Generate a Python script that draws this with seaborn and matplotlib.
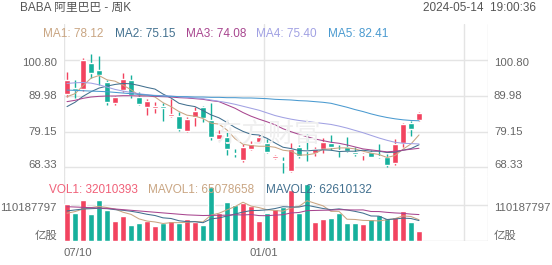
import numpy as np
import pandas as pd
import matplotlib
matplotlib.use("Agg")
import matplotlib.pyplot as plt
import seaborn as sns

# ---------------- data ----------------
x_tick_labels = ["07/10", "01/01"]
x_tick_index = [0, 25]

opens = [90.42, 92.2, 91.9, 99.8, 97.77, 94.23, 87.7, 91.7, 94.75, 89.7,
         86.5, 86.2, 86.9, 83.9, 83.85, 79.4, 83.65, 86.5, 82.64, 76.8,
         77.4, 72.6, 70.54, 73.9, 76.1, 75.6, 71.05, 70.0, 67.3, 74.4,
         73.5, 72.6, 73.8, 75.8, 73.5, 74.4, 73.05, 71.95, 73.05, 71.8,
         71.55, 69.54, 75.6, 81.83, 82.64]
highs = [97.17, 94.6, 101.4, 102.6, 102.0, 94.8, 89.9, 96.8, 96.3, 91.0,
         88.9, 88.2, 87.9, 88.9, 85.2, 83.65, 86.5, 86.9, 87.7, 79.6,
         79.4, 73.8, 75.4, 76.4, 78.1, 76.8, 72.0, 71.35, 75.6, 75.1,
         78.4, 74.56, 77.1, 78.0, 75.1, 77.4, 74.56, 72.6, 73.6, 75.3,
         72.35, 76.8, 81.6, 82.4, 85.2]
lows = [89.7, 89.3, 91.3, 95.3, 93.2, 87.2, 87.2, 91.2, 89.2, 87.3,
        84.07, 84.7, 82.4, 83.7, 79.4, 79.1, 80.8, 82.1, 76.6, 76.5,
        72.05, 71.4, 70.0, 73.6, 75.6, 72.7, 70.7, 66.7, 67.0, 71.05,
        70.3, 71.75, 72.6, 73.6, 71.35, 73.1, 71.75, 70.55, 71.35, 71.05,
        68.5, 69.0, 74.56, 77.8, 82.3]
closes = [94.75, 91.8, 100.8, 96.96, 96.2, 88.18, 89.7, 94.96, 90.2, 87.5,
          88.5, 86.9, 86.3, 84.5, 79.83, 82.85, 85.4, 83.16, 77.4, 78.4,
          73.8, 72.4, 74.56, 75.4, 77.4, 73.05, 71.75, 69.8, 73.8, 71.75,
          73.3, 73.9, 76.1, 74.56, 73.3, 73.35, 72.25, 72.35, 71.55, 71.4,
          69.0, 75.4, 81.43, 80.0, 84.85]
volumes = [113.0, 84.7, 125.5, 81.6, 125.5, 94.9, 61.2, 77.5, 49.0, 56.0,
           62.0, 46.9, 54.0, 62.0, 56.0, 67.3, 59.0, 48.0, 166.0, 84.7,
           119.0, 109.0, 115.0, 107.0, 61.0, 86.7, 97.0, 105.0, 156.0, 84.7,
           174.0, 58.0, 66.0, 71.0, 84.7, 54.0, 54.0, 52.0, 68.0, 79.6,
           71.0, 72.5, 92.7, 59.0, 32.010393]  # millions of shares

ma1 = [89.7, 90.6, 93.0, 95.3, 96.1, 94.8, 94.4, 93.2, 91.8, 90.1,
       90.2, 89.6, 87.9, 86.7, 85.2, 84.1, 83.8, 83.1, 81.7, 81.4,
       79.6, 77.0, 75.3, 74.9, 74.7, 74.7, 74.4, 73.5, 73.2, 72.0,
       72.1, 72.5, 73.8, 73.9, 74.2, 74.2, 73.9, 73.2, 72.6, 72.2,
       71.3, 71.9, 73.8, 75.4, 78.12]
ma2 = [86.7, 88.0, 89.8, 91.2, 92.3, 92.9, 93.4, 93.7, 93.6, 93.1,
       92.5, 92.0, 90.5, 89.3, 87.7, 87.1, 86.7, 85.5, 84.2, 83.3,
       81.9, 80.4, 79.2, 78.3, 78.1, 77.1, 75.7, 74.4, 74.0, 73.4,
       73.3, 73.5, 73.6, 73.5, 73.1, 73.2, 73.2, 73.5, 73.2, 73.2,
       72.8, 72.9, 73.5, 74.0, 75.15]
ma3 = [88.2, 88.6, 89.2, 89.6, 89.8, 89.9, 89.9, 90.0, 90.0, 89.9,
       89.9, 89.8, 89.7, 89.6, 89.4, 89.3, 89.1, 88.9, 88.5, 88.2,
       87.2, 86.2, 84.9, 83.8, 82.9, 82.1, 81.2, 80.0, 79.1, 78.3,
       77.6, 76.9, 76.4, 75.9, 75.6, 75.1, 74.5, 73.9, 73.6, 73.3,
       73.0, 73.2, 73.5, 73.8, 74.08]
ma4 = [93.7, 93.9, 94.0, 93.8, 93.3, 92.6, 91.9, 91.4, 91.0, 90.6,
       90.3, 90.1, 90.0, 89.9, 89.7, 89.5, 89.3, 89.1, 88.7, 88.3,
       87.9, 87.4, 86.8, 86.2, 85.6, 84.8, 84.0, 83.4, 82.9, 82.5,
       82.2, 81.9, 81.6, 81.3, 80.8, 80.2, 79.5, 78.8, 78.0, 77.2,
       76.5, 75.9, 75.6, 75.5, 75.40]
ma5 = [91.7, 91.6, 91.5, 91.4, 91.3, 91.2, 91.0, 90.8, 90.6, 90.4,
       90.2, 90.0, 89.9, 89.8, 89.7, 89.7, 89.6, 89.6, 89.5, 89.5,
       89.4, 89.4, 89.3, 89.3, 89.2, 89.1, 88.9, 88.8, 88.7, 88.5,
       88.4, 88.2, 88.0, 87.7, 87.1, 86.5, 85.8, 85.2, 84.5, 83.9,
       83.4, 83.0, 82.7, 82.5, 82.41]
mavol1 = [85, 90, 98, 102, 106.1, 102.4, 97.7, 88.1, 81.6, 67.7,
          61.1, 58.3, 53.6, 56.2, 56.2, 57.2, 59.7, 58.5, 79.3, 85.0,
          95.3, 105.3, 118.7, 106.9, 102.2, 95.7, 93.3, 91.3, 101.1, 105.9,
          123.3, 115.5, 107.7, 90.7, 90.7, 66.7, 65.9, 63.1, 62.5, 61.5,
          64.9, 68.6, 76.8, 75.0, 65.078658]
mavol2 = [92, 95, 98, 99, 100, 99, 96, 94, 91, 86.9,
          81.8, 78.0, 70.9, 68.9, 62.0, 59.2, 59.0, 56.0, 67.7, 70.6,
          76.3, 82.5, 88.6, 93.1, 93.6, 95.5, 99.3, 105.0, 104.0, 104.0,
          109.5, 104.4, 99.5, 95.9, 98.3, 95.0, 90.7, 85.4, 76.6, 76.1,
          65.8, 67.3, 70.0, 68.8, 62.610132]
mavol3 = [105, 104, 103, 102, 101, 100, 98, 96, 94, 92,
          90, 88, 86, 84, 82, 80, 79, 78, 78.5, 78.7,
          79.0, 80.3, 79.7, 81.0, 77.8, 77.4, 79.2, 80.5, 85.9, 87.3,
          92.9, 93.5, 94.1, 94.5, 96.0, 95.3, 95.0, 95.2, 90.3, 90.1,
          87.7, 85.9, 84.7, 82.3, 80.9]

price_ticks = [100.80, 89.98, 79.15, 68.33]
vol_tick = 110187797

# ---------------- style ----------------
sns.set_theme(style="white")
plt.rcParams["font.family"] = ["Liberation Sans", "Noto Sans CJK SC", "DejaVu Sans"]

RED = "#f2435f"
GREEN = "#16b09c"
C_MA1 = "#c9a582"
C_MA2 = "#42708f"
C_MA3 = "#a8468f"
C_MA4 = "#a1a1e3"
C_MA5 = "#4a9ad0"
GRID = "#e4e4e4"
TXT = "#666666"
LW = 0.75

W, H = 552, 265
fig = plt.figure(figsize=(W / 100, H / 100), dpi=100)


def rect(x0, y0, x1, y1):
    return [x0 / W, 1 - y1 / H, (x1 - x0) / W, (y1 - y0) / H]


ax = fig.add_axes(rect(64, 24, 488, 176))
axv = fig.add_axes(rect(64, 176, 488, 241))

n = len(closes)
idx = np.arange(n)
o = np.array(opens); c = np.array(closes)
hi = np.array(highs); lo = np.array(lows)
up = c >= o
colors = np.where(up, RED, GREEN)

df = pd.DataFrame({"i": idx, "vol": np.array(volumes) * 1e6,
                   "dir": np.where(up, "up", "down")})

XL = (-0.375, 52.625)
s = (100.80 - 68.33) / (167.3 - 60.0)
YL = (100.80 - (176 - 60) * s, 100.80 + (60 - 24) * s)
VL = (0, vol_tick * 65 / 36)

# grid
for a in (ax, axv):
    for gx in (-0.375, 24.625, 49.625, 52.625):
        a.axvline(gx, color=GRID, lw=1, zorder=0)
for v in price_ticks:
    ax.axhline(v, color=GRID, lw=1, zorder=0)
axv.axhline(vol_tick, color=GRID, lw=1, zorder=0)
axv.axhline(0, color="#dcdcdc", lw=1, zorder=0)

# faint watermark
fig.text(268 / W, 1 - 134 / H, "东方财富", fontsize=19, color="#efefef",
         ha="center", va="center", style="italic", zorder=0)

# candles
ax.vlines(idx, lo, hi, colors=colors, lw=1, zorder=2)
body = np.maximum(np.abs(c - o), 0.35)
ax.bar(idx, body, bottom=np.minimum(o, c), width=0.75, color=colors, zorder=3)

# moving averages
for vals, col in ((ma1, C_MA1), (ma2, C_MA2), (ma3, C_MA3), (ma4, C_MA4), (ma5, C_MA5)):
    sns.lineplot(x=idx, y=vals, ax=ax, color=col, lw=LW, zorder=4)

# volume
sns.barplot(data=df, x="i", y="vol", hue="dir", palette={"up": RED, "down": GREEN},
            dodge=False, width=0.75, saturation=1, legend=False, ax=axv, zorder=2)
for vals, col in ((mavol1, C_MA1), (mavol2, C_MA2), (mavol3, C_MA3)):
    sns.lineplot(x=idx, y=np.array(vals) * 1e6, ax=axv, color=col, lw=LW, zorder=4)

for a in (ax, axv):
    a.set_xlim(*XL)
    a.set_xticks([]); a.set_yticks([])
    a.set_xlabel(""); a.set_ylabel("")
    for sp in a.spines.values():
        sp.set_visible(False)
    a.patch.set_alpha(0)
ax.set_ylim(*YL)
axv.set_ylim(*VL)

fs_ax = 8.2
# price labels
offs = [-3.3, 0, 0, 2.3]
for v, dy in zip(price_ticks, offs):
    ax.annotate(f"{v:.2f}", xy=(0, v), xycoords=("axes fraction", "data"),
                xytext=(-7, dy), textcoords="offset pixels", ha="right", va="center",
                fontsize=fs_ax, color=TXT)
    ax.annotate(f"{v:.2f}", xy=(1, v), xycoords=("axes fraction", "data"),
                xytext=(6, dy), textcoords="offset pixels", ha="left", va="center",
                fontsize=fs_ax, color=TXT)
for v, lab, dy in ((vol_tick, str(vol_tick), -3), (0, "亿股", 5)):
    axv.annotate(lab, xy=(0, v), xycoords=("axes fraction", "data"),
                 xytext=(-7, dy), textcoords="offset pixels", ha="right", va="center",
                 fontsize=fs_ax, color=TXT)
    axv.annotate(lab, xy=(1, v), xycoords=("axes fraction", "data"),
                 xytext=(6, dy), textcoords="offset pixels", ha="left", va="center",
                 fontsize=fs_ax, color=TXT)
# date labels
for k, (ti, lab) in enumerate(zip(x_tick_index, x_tick_labels)):
    axv.annotate(lab, xy=(ti - 0.375, 0), xycoords="data", xytext=(0, -12),
                 textcoords="offset pixels", ha="left" if k == 0 else "center",
                 va="center", fontsize=fs_ax, color=TXT)


def ftext(x, y, t, **kw):
    fig.text(x / W, 1 - y / H, t, va="center", fontsize=8.5, **kw)


ftext(20, 8, "BABA 阿里巴巴 - 周K", color="#555555")
ftext(536, 8, "2024-05-14  19:00:36", color="#555555", ha="right")
ftext(43, 34, f"MA1: {ma1[-1]:.2f}", color=C_MA1)
ftext(115, 34, f"MA2: {ma2[-1]:.2f}", color=C_MA2)
ftext(186, 34, f"MA3: {ma3[-1]:.2f}", color=C_MA3)
ftext(256, 34, f"MA4: {ma4[-1]:.2f}", color=C_MA4)
ftext(328, 34, f"MA5: {ma5[-1]:.2f}", color=C_MA5)
ftext(49, 190, f"VOL1: {round(volumes[-1] * 1e6)}", color="#f06078")
ftext(148, 190, f"MAVOL1: {round(mavol1[-1] * 1e6)}", color=C_MA1)
ftext(266, 190, f"MAVOL2: {round(mavol2[-1] * 1e6)}", color=C_MA2)

fig.savefig("out.png", dpi=100)
